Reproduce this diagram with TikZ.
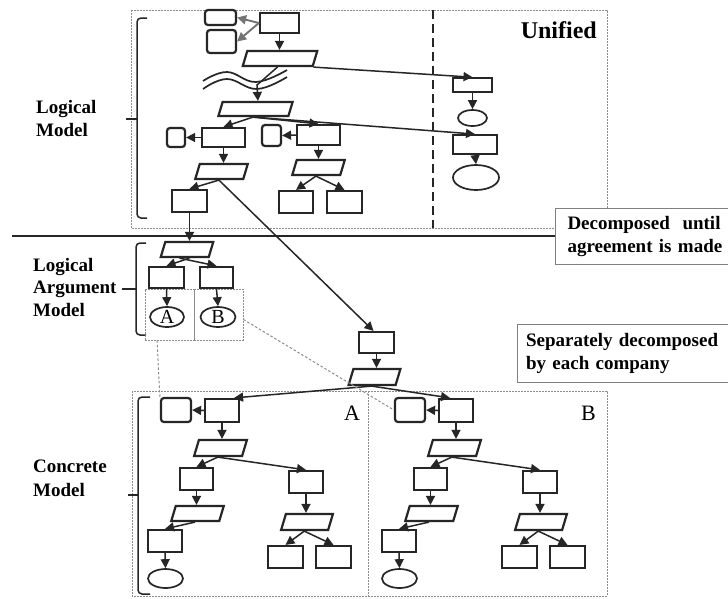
\documentclass[tikz,border=0pt]{standalone}
\usepackage{fontspec}
\setmainfont{Liberation Serif}
\usetikzlibrary{arrows.meta,shapes.geometric,calc}

\tikzset{
  sz/.style 2 args={minimum width=#1pt, minimum height=#2pt},
  blk/.style={draw=black!85, line width=2.2pt, rectangle, inner sep=0pt, fill=white},
  rblk/.style={blk, rounded corners=3pt},
  para/.style={blk, xslant=0.3},
  oval/.style={draw=black!85, line width=1.7pt, ellipse, inner sep=0pt, fill=white},
  arr/.style={draw=black!85, line width=1.5pt, -{Triangle[length=9pt,width=9pt]}},
  garr/.style={arr, draw=black!55, line width=1.9pt},
  frame/.style={draw=black!45, line width=0.9pt, dash pattern=on 1.6pt off 1.4pt},
  link/.style={draw=black!45, line width=1pt, dash pattern=on 2.5pt off 2pt},
  brace/.style={draw=black!85, line width=1.5pt, rounded corners=4pt},
  wave/.style={draw=black!85, line width=1.7pt},
  lbl/.style={font=\bfseries\fontsize{19}{23.5}\selectfont, align=left, inner sep=0pt, anchor=north west},
  note/.style={draw=black!50, line width=1pt, fill=white, anchor=north west, align=left,
               font=\bfseries\fontsize{19}{23}\selectfont},
}

% one company's concrete decomposition tree; #1 prefixes the node names
\newcommand\concretetree[1]{%
  \node[rblk,sz={30}{24}] (#1-r) at (176,410) {};
  \node[blk,sz={34}{23}] (#1-1) at (222,410.5) {};
  \node[para,sz={48}{16}] (#1-p1) at (220.5,448) {};
  \node[blk,sz={33}{22}] (#1-2) at (196.5,479) {};
  \node[blk,sz={34}{22}] (#1-3) at (306,482) {};
  \node[para,sz={47}{16}] (#1-p3) at (307,522) {};
  \node[blk,sz={35}{22}] (#1-4) at (285.5,557) {};
  \node[blk,sz={35}{22}] (#1-5) at (333.5,557) {};
  \node[para,sz={48}{15}] (#1-p2) at (197.5,513.5) {};
  \node[blk,sz={34}{22}] (#1-6) at (165,541) {};
  \node[oval,sz={35}{19}] (#1-e) at (165.5,578.5) {};
  \draw[arr] (#1-1.west) -- (#1-r.east);
  \draw[arr] (#1-1.south) -- (#1-1.south |- #1-p1.north);
  \draw[arr] (#1-p1.south) -- (#1-2.north);
  \draw[arr] (#1-p1.south) -- (#1-3.north);
  \draw[arr] (#1-2.south) -- (#1-2.south |- #1-p2.north);
  \draw[arr] (#1-p2.south) -- (#1-6.north);
  \draw[arr] (#1-6.south) -- (#1-e.north);
  \draw[arr] (#1-3.south) -- (#1-3.south |- #1-p3.north);
  \draw[arr] (#1-p3.south) -- (#1-4.north);
  \draw[arr] (#1-p3.south) -- (#1-5.north);
}

\begin{document}
\begin{tikzpicture}[x=1pt,y=-1pt]
\fill[white] (0,0) rectangle (728,598);
\useasboundingbox (0,0) rectangle (728,598);

% ---------- frames and separators ----------
\draw[frame] (131,10) rectangle (607,228);
\draw[draw=black!85, line width=2pt, dash pattern=on 9pt off 5pt] (433,10) -- (433,228);
\draw[frame] (132,391) rectangle (607,596);
\draw[frame] (368,391) -- (368,596);
\draw[black!85, line width=2.2pt] (12,236) -- (556,236);

\node[anchor=base east, inner sep=0pt, font=\bfseries\fontsize{24}{28}\selectfont] (unified) at (597,38) {Unified};

% ---------- side labels and braces ----------
\node[lbl] (lm) at (36,100) {Logical\\Model};
\node[lbl, font=\bfseries\fontsize{19}{22.5}\selectfont] (lam) at (33,258) {Logical\\Argument\\Model};
\node[lbl, font=\bfseries\fontsize{19}{24}\selectfont] (cm) at (33,460) {Concrete\\Model};

\draw[brace] (147,18) -- (137,18) -- (137,218) -- (147,218);
\draw[black!85, line width=1.5pt] (126,119) -- (137,119);
\draw[brace] (146,243) -- (136,243) -- (136,335) -- (146,335);
\draw[black!85, line width=1.5pt] (122,289) -- (136,289);
\draw[brace] (150,397) -- (138,397) -- (138,594) -- (150,594);
\draw[black!85, line width=1.5pt] (128,495) -- (138,495);

% ---------- logical model ----------
\node[rblk,sz={31}{15}] (r1) at (220.5,17.5) {};
\node[rblk,sz={29}{23}] (r2) at (221.5,41.5) {};
\node[blk,sz={39}{20}] (b0) at (279.5,23) {};
\node[para,sz={70}{15}] (p0) at (280,58.5) {};
\node[para,sz={70}{14}] (p1) at (255.5,109) {};
\node[blk,sz={43}{19}] (b1) at (223.5,137.5) {};
\node[blk,sz={43}{20}] (b2) at (318.5,135) {};
\node[rblk,sz={18}{19}] (r3) at (176,137.5) {};
\node[rblk,sz={19}{21}] (r4) at (271.5,135.5) {};
\node[para,sz={48}{15}] (p2) at (221.5,171.5) {};
\node[para,sz={48}{15}] (p3) at (318.5,167.5) {};
\node[blk,sz={34}{22}] (b3) at (296,202) {};
\node[blk,sz={35}{22}] (b4) at (344.5,202) {};
\node[blk,sz={35}{22}] (b5) at (189.5,201) {};

\node[blk,sz={39}{14}, line width=1.6pt] (u1) at (472.5,85) {};
\node[oval,sz={29}{16}] (e1) at (472.5,118) {};
\node[blk,sz={44}{19}, line width=1.8pt] (u2) at (475,144.5) {};
\node[oval,sz={46}{25}] (e2) at (476,177.5) {};

% omission mark between the two levels
\draw[wave] plot[smooth, tension=0.7] coordinates {(203,81) (227,72) (256,82) (287,70)};
\draw[wave] plot[smooth, tension=0.7] coordinates {(203,89) (227,79) (257,89) (287,77)};
\coordinate (brk) at (257,85);

\draw[garr] (b0.west) -- (r1.east);
\draw[garr] (b0.west) -- (r2.east);
\draw[arr] (b0.south) -- (b0.south |- p0.north);
\draw[arr] (p0.south) -- (brk) -- (p1.north);
\draw[arr] (p0.south east) -- (u1.north);
\draw[arr] (u1.south) -- (e1.north);
\draw[arr] (p1.south) -- (b1.north);
\draw[arr] (p1.south) -- (b2.north);
\draw[arr] (p1.south) -- (u2.north);
\draw[arr] (u2.south) -- (e2.north);
\draw[arr] (b1.west) -- (r3.east);
\draw[arr] (b2.west) -- (r4.east);
\draw[arr] (b1.south) -- (b1.south |- p2.north);
\draw[arr] (b2.south) -- (b2.south |- p3.north);
\draw[arr] (p3.south) -- (b3.north);
\draw[arr] (p3.south) -- (b4.north);
\draw[arr] (p2.south) -- (b5.north);

% ---------- logical argument model ----------
\node[para,sz={48}{15}] (pa) at (187,249.5) {};
\node[blk,sz={35}{21}] (la1) at (166.5,277.5) {};
\node[blk,sz={33}{21}] (la2) at (216.5,277.5) {};
\node[frame, rectangle, inner sep=0pt, sz={49}{51}] (abox) at (169.5,314.5) {};
\node[frame, rectangle, inner sep=0pt, sz={49}{51}] (bbox) at (218.5,314.5) {};
\node[oval,sz={34}{20}, font=\fontsize{20}{20}\selectfont] (ea) at (167,317) {A};
\node[oval,sz={35}{20}, font=\fontsize{20}{20}\selectfont] (eb) at (218,317) {B};

\draw[arr] (b5.south) -- (b5.south |- pa.north);
\draw[arr] ($(pa.south)+(5,0)$) -- (la1.north);
\draw[arr] ($(pa.south)+(-5,0)$) -- (la2.north);
\draw[arr] (la1.south) -- (ea.north);
\draw[arr] (la2.south) -- (eb.north);

% ---------- hand-over to the companies ----------
\node[blk,sz={35}{21}] (bm) at (376.5,342.5) {};
\node[para,sz={47}{16}] (pm) at (374.5,377) {};
\draw[arr] (p2.south) -- ($(bm.north)+(-3,0)$);
\draw[arr] (bm.south) -- (bm.south |- pm.north);

% ---------- concrete models ----------
\begin{scope}
  \concretetree{ca}
\end{scope}
\begin{scope}[shift={(234,0)}]
  \concretetree{cb}
\end{scope}
\node[inner sep=0pt, font=\fontsize{22}{22}\selectfont] (tagA) at (352,413.5) {A};
\node[inner sep=0pt, font=\fontsize{22}{22}\selectfont] (tagB) at (588.5,413.5) {B};

\draw[arr] (pm.south) -- ($(ca-1.north east)+(-6,0)$);
\draw[arr] (pm.south) -- ($(cb-1.north)+(-6,0)$);

\draw[link] ($(abox.south west)!0.25!(abox.south east)$) -- (ca-r.north west);
\draw[link] ($(bbox.east)+(0,5)$) -- (cb-r.west);

% ---------- notes ----------
\node[note, sz={173}{56}, inner xsep=12pt, text width=165pt] (note1) at (555,208)
  {Decomposed\ \ until\\agreement is made};
\node[note, sz={211}{58}, inner xsep=8pt, text width=194pt] (note2) at (517,324)
  {Separately decomposed\\by each company};
\end{tikzpicture}
\end{document}
